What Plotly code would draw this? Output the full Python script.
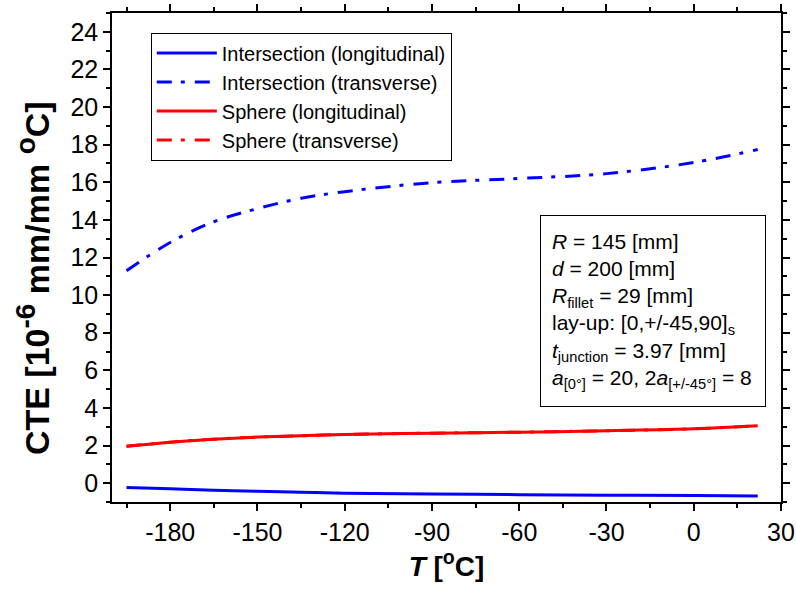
import plotly.graph_objects as go

# Data
temperature = [-195, -180, -165, -150, -135, -120, -90, -60, -30, 0, 22]
intersection_long = [-0.23, -0.30, -0.37, -0.43, -0.48, -0.53, -0.57, -0.61, -0.64, -0.66, -0.68]
intersection_trans = [11.3, 12.8, 13.9, 14.6, 15.15, 15.5, 15.98, 16.2, 16.46, 17.05, 17.74]
sphere_long = [1.96, 2.18, 2.34, 2.45, 2.52, 2.59, 2.66, 2.71, 2.79, 2.89, 3.05]
sphere_trans = [1.96, 2.18, 2.34, 2.45, 2.52, 2.59, 2.66, 2.71, 2.79, 2.89, 3.05]

series_names = ["Intersection (longitudinal)", "Intersection (transverse)",
                "Sphere (longitudinal)", "Sphere (transverse)"]

x_tick_values = [-180, -150, -120, -90, -60, -30, 0, 30]
x_tick_labels = ["-180", "-150", "-120", "-90", "-60", "-30", "0", "30"]

FONT = "Liberation Sans, Arial, sans-serif"
DASHDOT = "15px,9px,4px,10px"

fig = go.Figure()
fig.add_trace(go.Scatter(x=temperature, y=sphere_trans, mode="lines", name=series_names[3],
                         line=dict(color="#ff0000", width=3, dash=DASHDOT, shape="spline"),
                         legendrank=4))
fig.add_trace(go.Scatter(x=temperature, y=intersection_long, mode="lines", name=series_names[0],
                         line=dict(color="#0000ff", width=3, shape="spline"), legendrank=1))
fig.add_trace(go.Scatter(x=temperature, y=intersection_trans, mode="lines", name=series_names[1],
                         line=dict(color="#0000ff", width=3, dash=DASHDOT, shape="spline"),
                         legendrank=2))
fig.add_trace(go.Scatter(x=temperature, y=sphere_long, mode="lines", name=series_names[2],
                         line=dict(color="#ff0000", width=3, shape="spline"), legendrank=3))

axis_common = dict(
    showline=True, linecolor="black", linewidth=1.5, mirror="allticks",
    ticks="outside", ticklen=7, tickwidth=1.5, tickcolor="black",
    showgrid=False, zeroline=False, automargin=False,
    tickfont=dict(family=FONT, size=25, color="black"),
)

fig.update_xaxes(range=[-200, 30], tickmode="array", tickvals=x_tick_values, ticktext=x_tick_labels,
                 minor=dict(ticks="outside", tickmode="linear", tick0=0, dtick=15,
                            ticklen=4, tickwidth=1.5, tickcolor="black"),
                 title=dict(text="<b><i>T</i> [<sup>o</sup>C]</b>",
                            font=dict(family=FONT, size=28, color="black"), standoff=6),
                 **axis_common)
fig.update_yaxes(range=[-1, 25], tick0=0, dtick=2,
                 minor=dict(ticks="outside", dtick=1, ticklen=4, tickwidth=1.5, tickcolor="black"),
                 **axis_common)

# y-axis title as a rotated annotation so it can sit slightly below the axis centre
fig.add_annotation(xref="paper", yref="paper", x=-0.118, y=0.458,
                   xanchor="center", yanchor="middle", showarrow=False, textangle=-90,
                   text="<b>CTE [10<sup><span style='font-size:28px'>-6</span></sup> mm/mm "
                        "<sup><span style='font-size:28px'>o</span></sup>C]</b>",
                   font=dict(family=FONT, size=34, color="black"))

box_text = ("<i>R</i> = 145 [mm]<br>"
            "<i>d</i> = 200 [mm]<br>"
            "<i>R</i><sub>fillet</sub> = 29 [mm]<br>"
            "lay-up: [0,+/-45,90]<sub>s</sub><br>"
            "<i>t</i><sub>junction</sub> = 3.97 [mm]<br>"
            "<i>a</i><sub>[0°]</sub> = 20, 2<i>a</i><sub>[+/-45°]</sub> = 8")

fig.add_annotation(xref="paper", yref="paper", x=0.809, y=0.391,
                   xanchor="center", yanchor="middle", showarrow=False,
                   text=box_text, align="left", valign="middle",
                   width=202, height=168, borderpad=11,
                   bordercolor="black", borderwidth=1, bgcolor="white",
                   font=dict(family=FONT, size=21, color="black"))

fig.update_layout(
    width=796, height=592,
    margin=dict(l=112, r=15, t=13, b=90),
    paper_bgcolor="white", plot_bgcolor="white",
    font=dict(family=FONT, color="black"),
    legend=dict(x=0.058, y=0.96, xanchor="left", yanchor="top",
                bordercolor="black", borderwidth=1, bgcolor="white",
                font=dict(family=FONT, size=20, color="black"),
                traceorder="normal", tracegroupgap=0, itemwidth=60),
)

fig.write_html("out.html", config={"displayModeBar": False},
               post_script="document.body.style.margin='0';")
